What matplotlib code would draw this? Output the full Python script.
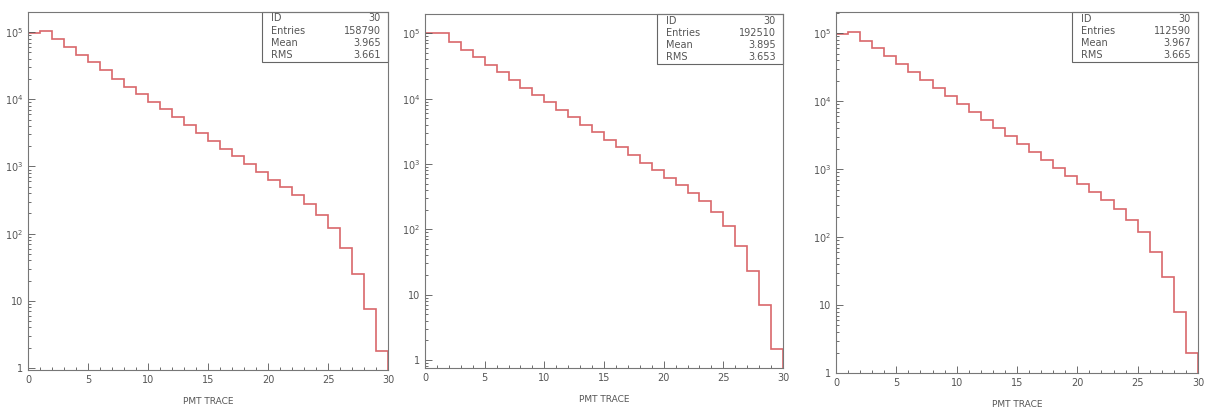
import numpy as np
import matplotlib
matplotlib.use("Agg")
import matplotlib.pyplot as plt
import matplotlib.ticker as ticker
from matplotlib.patches import Rectangle

edges = np.arange(0, 31)

counts_a = [97000, 105000, 78700, 60000, 46000, 35700, 27000, 20000, 15500, 12000,
            9100, 7100, 5400, 4100, 3150, 2400, 1850, 1420, 1090, 830,
            635, 490, 370, 272, 187, 120, 61, 25, 7.5, 1.76]
counts_b = [100000, 100000, 74500, 55600, 43000, 32700, 25600, 19300, 14800, 11200,
            8800, 6800, 5150, 3950, 3050, 2330, 1790, 1370, 1050, 800,
            615, 470, 365, 270, 185, 112, 55, 23, 6.8, 1.45]
counts_c = [98000, 103000, 77000, 60000, 46000, 35000, 27000, 20500, 15700, 12000,
            9200, 6900, 5350, 4000, 3050, 2350, 1770, 1370, 1030, 785,
            595, 457, 347, 258, 180, 117, 61, 26, 7.9, 2.0]

stats_a = ["30", "158790", "3.965", "3.661"]
stats_b = ["30", "192510", "3.895", "3.653"]
stats_c = ["30", "112590", "3.967", "3.665"]
stat_names = ["ID", "Entries", "Mean", "RMS"]

W, H = 1207, 409
# pixel boxes: left, right, top, bottom ; y limits
panels = [
    (counts_a, stats_a, (28, 388, 12, 370), (0.93, 2.0e5)),
    (counts_b, stats_b, (425, 783, 14, 368), (0.75, 1.98e5)),
    (counts_c, stats_c, (836, 1198, 12, 373), (1.0, 2.05e5)),
]

grey = "#555555"
fig = plt.figure(figsize=(W / 100, H / 100), dpi=100)

for counts, stats, (l, r, t, b), ylim in panels:
    ax = fig.add_axes([l / W, 1 - b / H, (r - l) / W, (b - t) / H])
    ax.stairs(counts, edges, color="#d9676b", linewidth=1.2)
    ax.set_yscale("log")
    ax.set_xlim(0, 30)
    ax.set_ylim(*ylim)

    ax.xaxis.set_major_locator(ticker.MultipleLocator(5))
    ax.xaxis.set_minor_locator(ticker.MultipleLocator(1))
    ax.yaxis.set_major_locator(ticker.LogLocator(base=10, numticks=10))
    ax.yaxis.set_minor_locator(ticker.LogLocator(base=10, subs=np.arange(2, 10), numticks=10))
    ax.yaxis.set_minor_formatter(ticker.NullFormatter())
    ax.yaxis.set_major_formatter(ticker.FuncFormatter(
        lambda v, p: "1" if v == 1 else ("10" if v == 10 else r"$10^{%d}$" % round(np.log10(v)))))

    ax.tick_params(which="both", direction="in", top=False, right=False,
                   colors=grey, labelsize=7, width=0.6)
    ax.tick_params(which="major", length=5)
    ax.tick_params(which="minor", length=2.5)
    for s in ax.spines.values():
        s.set_color("#777777")
        s.set_linewidth(0.8)
    ax.set_xlabel("PMT TRACE", fontsize=6.5, color=grey, labelpad=9)

    # stats box in the upper right corner
    hpx = b - t
    bw, bh = 126 / (r - l), 50 / hpx
    ax.add_patch(Rectangle((1 - bw, 1 - bh), bw, bh, transform=ax.transAxes,
                           fill=False, edgecolor="#666666", linewidth=0.8, clip_on=False))
    for i, (name, val) in enumerate(zip(stat_names, stats)):
        yy = 1 - (6.5 + i * 12.3) / hpx
        ax.text(1 - bw + 0.025, yy, name, transform=ax.transAxes, fontsize=7,
                color=grey, va="center", ha="left")
        ax.text(1 - 0.02, yy, val, transform=ax.transAxes, fontsize=7,
                color=grey, va="center", ha="right")

fig.savefig("out.png", dpi=100)
